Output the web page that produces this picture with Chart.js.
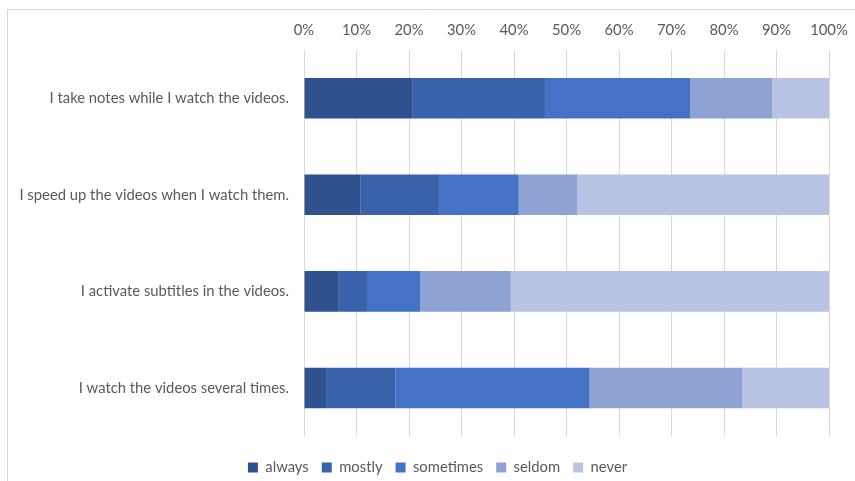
<!DOCTYPE html>
<html>
<head>
<meta charset="utf-8">
<script src="https://cdn.jsdelivr.net/npm/chart.js@4/dist/chart.umd.min.js"></script>
<style>
html,body{margin:0;padding:0;background:#fff;}
#wrap{width:855px;height:481px;position:relative;}
</style>
</head>
<body>
<div id="wrap"><canvas id="c" width="855" height="481"></canvas></div>
<script>
const categories = [
  "I take notes while I watch the videos.",
  "I speed up the videos when I watch them.",
  "I activate subtitles in the videos.",
  "I watch the videos several times."
];
const seriesNames = ["always", "mostly", "sometimes", "seldom", "never"];
const always    = [20.6, 10.8,  6.5,  4.2];
const mostly    = [25.3, 14.9,  5.5, 13.2];
const sometimes = [27.7, 15.2, 10.1, 37.0];
const seldom    = [15.6, 11.1, 17.3, 29.1];
const never     = [10.8, 48.0, 60.6, 16.5];
const tickValues = [0,10,20,30,40,50,60,70,80,90,100];

const colors = ["#2F528F", "#3A62AB", "#4472C4", "#8EA3D3", "#B9C3E3"];
const seriesData = [always, mostly, sometimes, seldom, never];
const FONT = { family: 'Lato', size: 14.8 };

const frame = {
  id: 'frame',
  beforeDraw(chart) {
    const ctx = chart.ctx;
    ctx.save();
    ctx.fillStyle = '#fff';
    ctx.fillRect(0, 0, chart.width, chart.height);
    ctx.strokeStyle = '#d9d9d9';
    ctx.lineWidth = 1;
    ctx.beginPath();
    ctx.moveTo(7.5, chart.height);
    ctx.lineTo(7.5, 9.5);
    ctx.lineTo(chart.width, 9.5);
    ctx.stroke();
    ctx.restore();
  }
};
const legendShift = {
  id: 'legendShift',
  afterLayout(chart) {
    const l = chart.legend;
    const dy = 466 - (l.top + l.height / 2);
    l.top += dy; l.bottom += dy;
    const dx = 23;
    l.left += dx; l.right += dx;
  }
};

new Chart(document.getElementById('c'), {
  type: 'bar',
  data: {
    labels: categories,
    datasets: seriesNames.map((n, i) => ({
      label: n,
      data: seriesData[i],
      backgroundColor: colors[i],
      borderWidth: 0,
      barPercentage: 0.42,
      categoryPercentage: 1
    }))
  },
  options: {
    indexAxis: 'y',
    responsive: false,
    animation: false,
    layout: { padding: { top: 0, bottom: 7, left: 0, right: 26 } },
    scales: {
      x: {
        position: 'top',
        stacked: true,
        min: 0, max: 100,
        afterBuildTicks(scale) { scale.ticks = tickValues.map(v => ({ value: v })); },
        afterFit(scale) { scale.height = 50; scale.paddingRight = 0; scale.paddingLeft = 0; },
        grid: { color: '#d9d9d9', drawTicks: false, lineWidth: 1 },
        border: { display: false },
        ticks: {
          padding: 11,
          color: '#595959',
          font: FONT,
          callback: v => v + '%'
        }
      },
      y: {
        stacked: true,
        afterFit(scale) { scale.width = 304; },
        grid: { display: false, drawTicks: false },
        border: { display: false },
        ticks: {
          padding: 15,
          color: '#595959',
          font: FONT
        }
      }
    },
    plugins: {
      legend: {
        position: 'bottom',
        labels: {
          boxWidth: 10,
          boxHeight: 10,
          padding: 13,
          color: '#595959',
          font: FONT
        }
      },
      tooltip: { enabled: false }
    }
  },
  plugins: [frame, legendShift]
});
</script>
</body>
</html>
